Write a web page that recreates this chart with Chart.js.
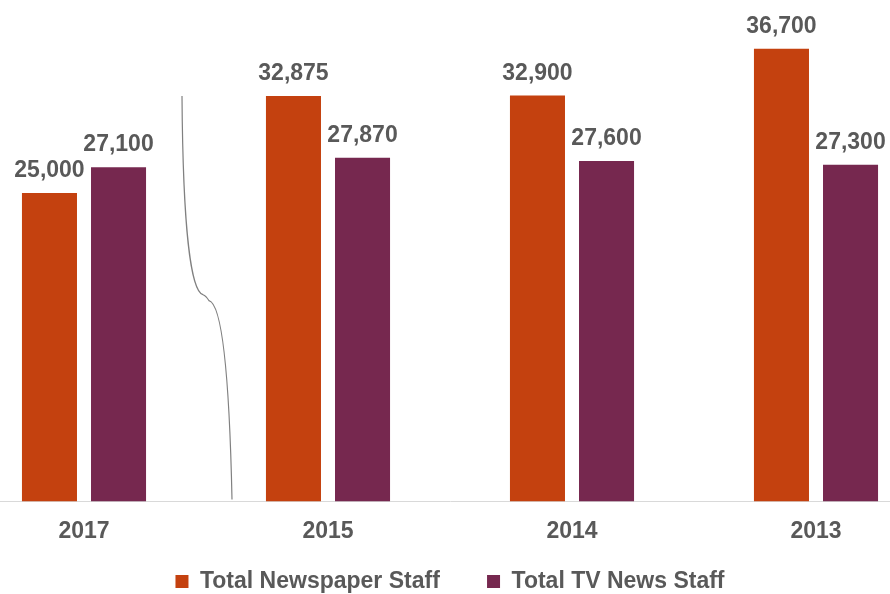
<!DOCTYPE html>
<html>
<head>
<meta charset="utf-8">
<script src="https://cdn.jsdelivr.net/npm/chart.js@4/dist/chart.umd.min.js"></script>
<style>
    html, body { margin: 0; padding: 0; background: #fff; overflow: hidden; }
    body { width: 890px; height: 594px; position: relative; }
    /* canvas is a bit wider than the page so the outer bars get cut at the edges */
    #wrap { position: absolute; left: -38px; top: 0; width: 976px; height: 594px; }
</style>
</head>
<body>
<div id="wrap"><canvas id="staffChart"></canvas></div>
<script>
const years = ["2017", "2015", "2014", "2013"];
const newspaperStaff = [25000, 32875, 32900, 36700];
const tvNewsStaff = [27100, 27870, 27600, 27300];

const FONT = "'Liberation Sans', Arial, sans-serif";
const TEXT_GRAY = "#595959";

// numbers over each bar
const valueLabels = {
    id: "valueLabels",
    afterDatasetsDraw(chart) {
        const ctx = chart.ctx;
        ctx.save();
        ctx.font = "bold 23px " + FONT;
        ctx.fillStyle = TEXT_GRAY;
        ctx.textAlign = "center";
        ctx.textBaseline = "alphabetic";
        chart.data.datasets.forEach((ds, i) => {
            chart.getDatasetMeta(i).data.forEach((bar, j) => {
                ctx.fillText(ds.data[j].toLocaleString("en-US"), bar.x, bar.y - 16);
            });
        });
        ctx.restore();
    }
};

// squiggly break mark between the first and second year
const breakMark = {
    id: "breakMark",
    afterDatasetsDraw(chart) {
        const x = chart.scales.x, y = chart.scales.y;
        const mx = (x.getPixelForValue(0) + x.getPixelForValue(1)) / 2;
        const top = y.getPixelForValue(newspaperStaff[1]);
        const bottom = y.getPixelForValue(0) - 2;
        const my = (top + bottom) / 2;
        const ctx = chart.ctx;
        ctx.save();
        ctx.strokeStyle = "#808080";
        ctx.lineWidth = 1.2;
        ctx.beginPath();
        ctx.moveTo(mx - 24, top);
        ctx.bezierCurveTo(mx - 23, top + (my - top) * 0.7, mx - 14, my - 6, mx - 3, my - 3);
        ctx.quadraticCurveTo(mx, my - 2, mx + 3, my + 3);
        ctx.bezierCurveTo(mx + 14, my + 6, mx + 23, bottom - (bottom - my) * 0.7, mx + 26, bottom);
        ctx.stroke();
        ctx.restore();
    }
};

const ctx = document.getElementById("staffChart").getContext("2d");
const staffChart = new Chart(ctx, {
    type: "bar",
    data: {
        labels: years,
        datasets: [
            {
                label: "Total Newspaper Staff",
                data: newspaperStaff,
                backgroundColor: "#C4410F"
            },
            {
                label: "Total TV News Staff",
                data: tvNewsStaff,
                backgroundColor: "#76284F"
            }
        ]
    },
    options: {
        responsive: true,
        maintainAspectRatio: false,
        animation: false,
        categoryPercentage: 0.566,
        barPercentage: 0.797,
        layout: { padding: { top: 8, bottom: -9, left: 0, right: 0 } },
        plugins: {
            legend: {
                position: "bottom",
                labels: {
                    boxWidth: 13,
                    boxHeight: 13,
                    padding: 2.5,
                    color: TEXT_GRAY,
                    font: { family: FONT, size: 23, weight: "bold" },
                    // wider gap between the two entries
                    generateLabels(chart) {
                        const items = Chart.defaults.plugins.legend.labels.generateLabels(chart);
                        items[0].text += "       ";
                        return items;
                    }
                }
            },
            tooltip: { enabled: false }
        },
        scales: {
            x: {
                grid: { display: false, drawTicks: false },
                border: { display: true, color: "#D9D9D9", width: 1 },
                ticks: {
                    color: TEXT_GRAY,
                    padding: 16,
                    font: { family: FONT, size: 23, weight: "bold" }
                },
                afterFit(axis) { axis.height = 66; }
            },
            y: {
                display: false,
                min: 0,
                max: 40000
            }
        }
    },
    plugins: [valueLabels, breakMark]
});
</script>
</body>
</html>
